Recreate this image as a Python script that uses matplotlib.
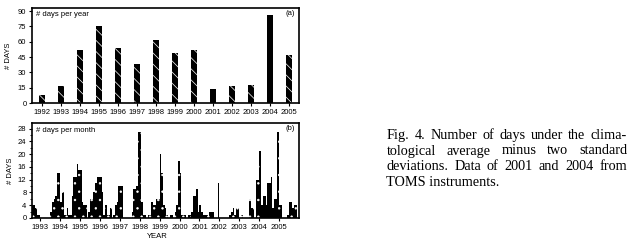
import matplotlib
matplotlib.use('Agg')
import matplotlib.pyplot as plt

# ---- dados ----
anos = list(range(1992, 2006))
dias_ano = [8, 17, 52, 75, 54, 38, 62, 49, 52, 14, 17, 18, 86, 47]
anos_toms = [2001, 2004]

# dias por mes (indice 0 = primeiro mes do painel b)
dias_mes = [4, 4, 3, 1, 1, 0, 0, 0, 0, 0, 0,
            2, 5, 6, 7, 14, 14, 5, 8, 1, 1, 3, 1, 1,
            7, 13, 13, 17, 15, 15, 5, 4, 4,
            0, 2, 6, 6, 8, 11, 13, 13, 13, 8, 1, 4, 1, 1, 3,
            0, 1, 4, 5, 10, 10, 10, 0, 0, 0, 0, 0,
            2, 9, 9, 10, 27, 27, 5, 1, 1, 0,
            1, 1, 5, 4, 4, 6, 6, 20, 14, 4, 3, 1, 0, 1, 1, 0,
            2, 4, 18, 14, 1, 1, 1, 0,
            1, 1, 2, 7, 7, 9, 2, 4, 2, 1, 1, 1, 0,
            2, 2, 2, 0, 0, 11, 0, 0, 0, 0, 0, 0,
            1, 2, 3, 1, 3, 3, 0, 1, 0, 0, 0, 0,
            6, 3, 3, 0, 12, 12, 21, 4, 7, 7, 4, 11, 11, 13, 3, 6, 6, 27, 4, 4,
            0, 0, 0, 1, 5, 5, 3, 4, 4, 0]
meses_toms = list(range(96, 104)) + list(range(138, 148))
anos_mes = list(range(1993, 2006))

legenda = ["Fig. 4. Number of days under the clima-",
           "tological average minus two standard",
           "deviations. Data of 2001 and 2004 from",
           "TOMS instruments."]

W, H = 634, 246
plt.rcParams['font.family'] = ['Liberation Sans', 'DejaVu Sans']
plt.rcParams['hatch.linewidth'] = 0.5

fig = plt.figure(figsize=(W / 100, H / 100), dpi=100)

def eixo(x0, y0, x1, y1):
    # coordenadas em pixels (y a partir do topo)
    return fig.add_axes([x0 / W, 1 - y1 / H, (x1 - x0) / W, (y1 - y0) / H])

def estilo(ax):
    for s in ax.spines.values():
        s.set_linewidth(1.2)
    ax.tick_params(direction='out', length=2.5, width=0.8, labelsize=5.5, pad=1.5)

# ---- painel (a) ----
ax1 = eixo(32, 8, 299, 103)
x_nor = [a for a in anos if a not in anos_toms]
y_nor = [d for a, d in zip(anos, dias_ano) if a not in anos_toms]
x_tom = [a for a in anos if a in anos_toms]
y_tom = [d for a, d in zip(anos, dias_ano) if a in anos_toms]
ax1.bar(x_nor, y_nor, width=0.28, color='black', edgecolor='white',
        hatch='\\\\\\', linewidth=0)
ax1.bar(x_tom, y_tom, width=0.28, color='black', linewidth=0)
ax1.set_xlim(1991.47, 2005.53)
ax1.set_ylim(0, 93)
ax1.set_xticks(anos)
ax1.set_xticklabels([str(a) for a in anos])
ax1.set_yticks(range(0, 91, 15))
estilo(ax1)
ax1.text(0.015, 0.93, '# days per year', transform=ax1.transAxes, fontsize=5.5,
         va='center', ha='left')
ax1.text(0.985, 0.94, '(a)', transform=ax1.transAxes, fontsize=5.5,
         va='center', ha='right')
ax1.set_ylabel('# DAYS', fontsize=5.5, labelpad=4)

# ---- painel (b) ----
ax2 = eixo(32, 123, 299, 218)
idx = list(range(len(dias_mes)))
x_nor = [i for i in idx if i not in meses_toms]
y_nor = [dias_mes[i] for i in x_nor]
x_tom = [i for i in idx if i in meses_toms]
y_tom = [dias_mes[i] for i in x_tom]
ax2.bar(x_nor, y_nor, width=1.0, color='black', edgecolor='white',
        hatch='..', linewidth=0)
ax2.bar(x_tom, y_tom, width=1.0, color='black', linewidth=0)
ax2.set_xlim(-0.5, len(dias_mes) - 0.5)
ax2.set_ylim(0, 29.8)
ax2.set_xticks([4.5 + 12 * k for k in range(len(anos_mes))])
ax2.set_xticklabels([str(a) for a in anos_mes])
ax2.set_yticks(range(0, 29, 4))
ax2.set_yticks(range(0, 29, 2), minor=True)
estilo(ax2)
ax2.tick_params(which='minor', direction='out', length=1.5, width=0.6)
ax2.text(0.015, 0.92, '# days per month', transform=ax2.transAxes, fontsize=5.5,
         va='center', ha='left')
ax2.text(0.985, 0.94, '(b)', transform=ax2.transAxes, fontsize=5.5,
         va='center', ha='right')
ax2.set_ylabel('# DAYS', fontsize=5.5, labelpad=3)
fig.text(157 / W, 1 - 237 / H, 'YEAR', fontsize=5.5, ha='center', va='center')

# ---- legenda justificada ----
fig.canvas.draw()
rend = fig.canvas.get_renderer()
x0, x1 = 386.5, 627
bases = [139, 154.5, 170, 185.5]
fonte = dict(family='Liberation Serif', fontsize=10.3, va='baseline', ha='left')
for k, (linha, yb) in enumerate(zip(legenda, bases)):
    yf = 1 - yb / H
    if k == len(legenda) - 1:
        fig.text(x0 / W, yf, linha, **fonte)
        continue
    palavras = linha.split()
    txts = [fig.text(0, yf, p, **fonte) for p in palavras]
    larg = [t.get_window_extent(rend).width for t in txts]
    esp = (x1 - x0 - sum(larg)) / (len(palavras) - 1)
    xp = x0
    for t, w in zip(txts, larg):
        t.set_x(xp / W)
        xp += w + esp

fig.savefig('out.png', dpi=100)
